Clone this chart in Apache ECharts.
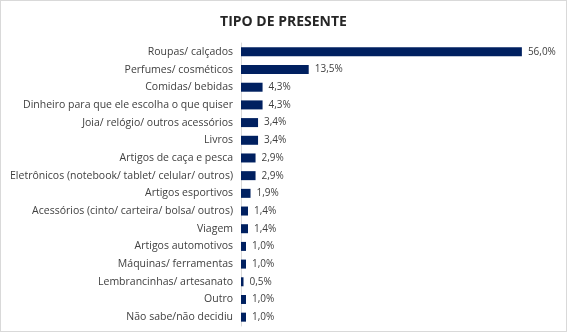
<!DOCTYPE html>
<html><head><meta charset="utf-8">
<script src="https://cdn.jsdelivr.net/npm/echarts@6/dist/echarts.min.js"></script>
<style>html,body{margin:0;padding:0;background:#fff}#c{width:567px;height:332px;box-sizing:border-box;border:1px solid #d9d9d9}</style>
</head><body><div id="c"></div>
<script>
const categories = ["Roupas/ calçados","Perfumes/ cosméticos","Comidas/ bebidas","Dinheiro para que ele escolha o que quiser","Joia/ relógio/ outros acessórios","Livros","Artigos de caça e pesca","Eletrônicos (notebook/ tablet/ celular/ outros)","Artigos esportivos","Acessórios (cinto/ carteira/ bolsa/ outros)","Viagem","Artigos automotivos","Máquinas/ ferramentas","Lembrancinhas/ artesanato","Outro","Não sabe/não decidiu"];
const values = [56.0,13.5,4.3,4.3,3.4,3.4,2.9,2.9,1.9,1.4,1.4,1.0,1.0,0.5,1.0,1.0];
const title = "TIPO DE PRESENTE";
const chart = echarts.init(document.getElementById('c'), null, {renderer:'canvas'});
chart.setOption({
  animation:false,
  title:{text:title,left:'center',top:9,textStyle:{fontFamily:'Open Sans',fontSize:14,fontWeight:'bold',color:'#262626'}},
  grid:{left:240,top:42,width:321,height:283},
  xAxis:{type:'value',min:0,max:64,show:false},
  yAxis:{type:'category',data:categories,inverse:true,
    axisLine:{lineStyle:{color:'#d9d9d9'}},axisTick:{show:false},
    axisLabel:{fontFamily:'Open Sans',fontSize:10.5,color:'#404040',margin:8}},
  series:[{type:'bar',data:values,barWidth:9,itemStyle:{color:'#002060'},
    label:{show:true,position:'right',distance:6,fontFamily:'Open Sans',fontSize:10,color:'#404040',
      formatter:p=>p.value.toFixed(1).replace('.',',')+'%'}}]
});
</script></body></html>
